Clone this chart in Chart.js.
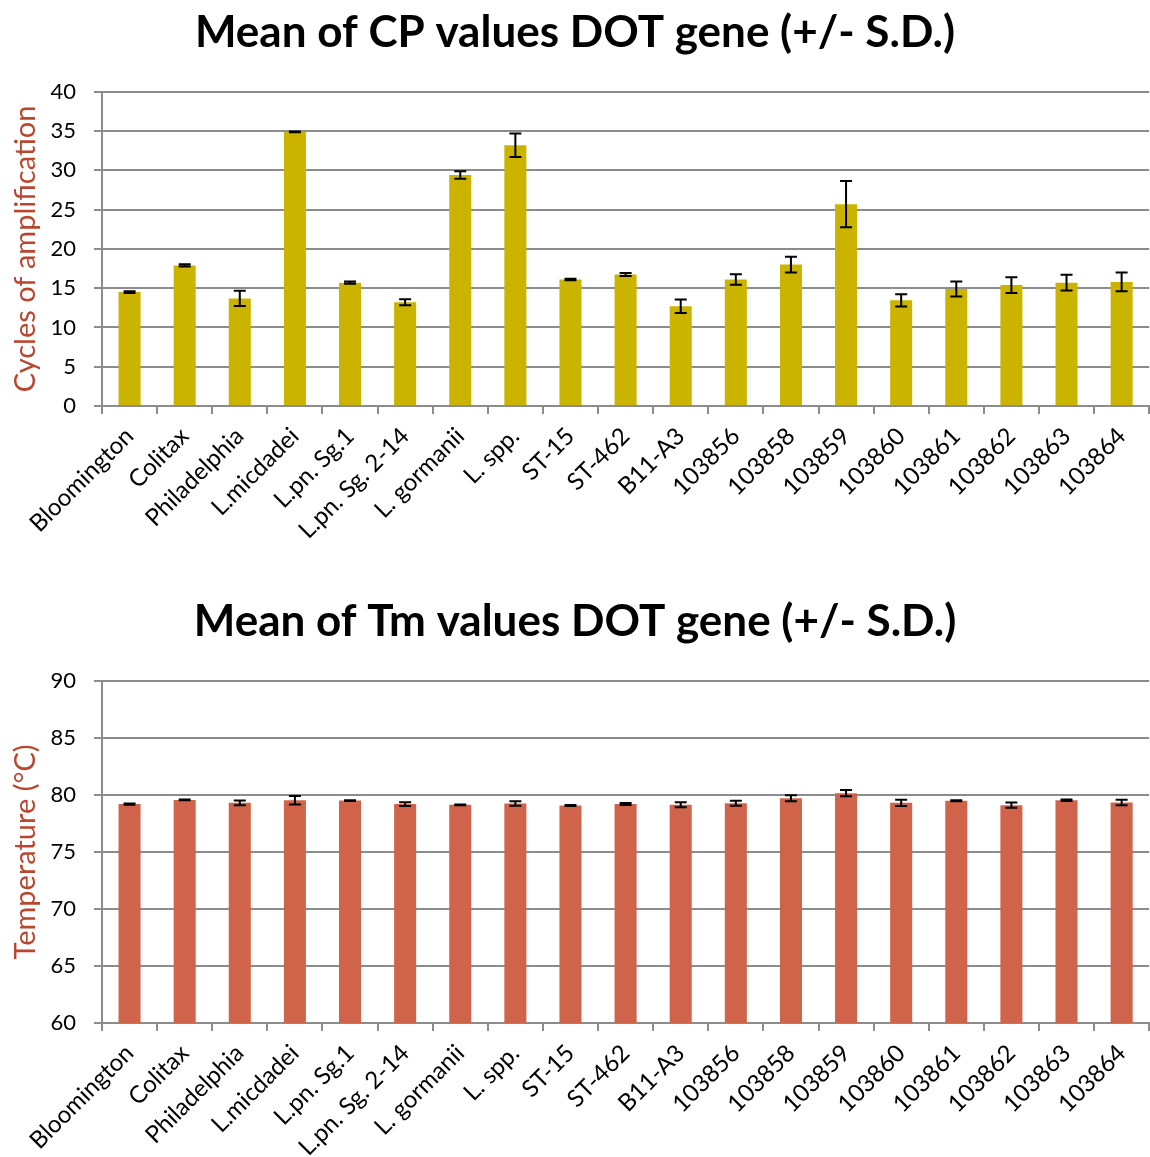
<!DOCTYPE html>
<html>
<head>
<meta charset="utf-8">
<script src="https://cdn.jsdelivr.net/npm/chart.js@4.4.0/dist/chart.umd.min.js"></script>
<style>
    html, body { margin: 0; padding: 0; background: #fff; }
    body { width: 1150px; height: 1157px; position: relative; overflow: hidden; }
    .box { position: absolute; left: 0; width: 1150px; }
    #topBox { top: 0; height: 589px; }
    #bottomBox { top: 589px; height: 568px; }
</style>
</head>
<body>
<div class="box" id="topBox"><canvas id="cpChart"></canvas></div>
<div class="box" id="bottomBox"><canvas id="tmChart"></canvas></div>
<script>
// Strains / isolates
const strains = ['Bloomington', 'Colitax', 'Philadelphia', 'L.micdadei', 'L.pn. Sg.1', 'L.pn. Sg. 2-14',
    'L. gormanii', 'L. spp.', 'ST-15', 'ST-462', 'B11-A3', '103856', '103858', '103859',
    '103860', '103861', '103862', '103863', '103864'];

// CP means and S.D.
const cpMean = [14.5, 17.9, 13.7, 34.9, 15.7, 13.2, 29.4, 33.2, 16.1, 16.75, 12.7, 16.1, 18.0, 25.7,
    13.45, 14.9, 15.4, 15.7, 15.8];
const cpSD = [0.1, 0.15, 0.97, 0.05, 0.15, 0.38, 0.47, 1.5, 0.1, 0.19, 0.87, 0.66, 1.0, 2.94,
    0.78, 0.95, 1.0, 1.0, 1.18];

// Tm means and S.D.
const tmMean = [79.19, 79.56, 79.3, 79.53, 79.5, 79.19, 79.13, 79.24, 79.07, 79.2, 79.13, 79.27, 79.71, 80.15,
    79.3, 79.48, 79.1, 79.53, 79.33];
const tmSD = [0.05, 0.03, 0.2, 0.38, 0.03, 0.16, 0.03, 0.19, 0.04, 0.08, 0.22, 0.22, 0.26, 0.28,
    0.28, 0.05, 0.23, 0.07, 0.25];

const cpTicks = [0, 5, 10, 15, 20, 25, 30, 35, 40];
const tmTicks = [60, 65, 70, 75, 80, 85, 90];

const FONT = 'Lato, "Open Sans", sans-serif';
const GRID = '#8c8c8c';
const AXIS_RED = '#b9472f';

// draws +/- S.D. whiskers on top of the bars
const errorBars = {
    id: 'errorBars',
    afterDatasetsDraw(chart, args, opts) {
        const ctx = chart.ctx;
        const y = chart.scales.y;
        const meta = chart.getDatasetMeta(0);
        const means = chart.data.datasets[0].data;
        ctx.save();
        ctx.strokeStyle = '#000';
        ctx.lineWidth = 2;
        meta.data.forEach((bar, i) => {
            const sd = opts.sd[i];
            const top = y.getPixelForValue(means[i] + sd);
            const bot = y.getPixelForValue(means[i] - sd);
            ctx.beginPath();
            ctx.moveTo(bar.x, top);
            ctx.lineTo(bar.x, bot);
            ctx.moveTo(bar.x - 6, top);
            ctx.lineTo(bar.x + 6, top);
            ctx.moveTo(bar.x - 6, bot);
            ctx.lineTo(bar.x + 6, bot);
            ctx.stroke();
        });
        ctx.restore();
    }
};

function makeChart(id, title, yTitle, means, sds, ticks, color, xHeight) {
    return new Chart(document.getElementById(id), {
        type: 'bar',
        data: {
            labels: strains,
            datasets: [{
                data: means,
                backgroundColor: color,
                borderWidth: 0,
                barPercentage: 0.4,
                categoryPercentage: 1.0
            }]
        },
        plugins: [errorBars],
        options: {
            responsive: true,
            maintainAspectRatio: false,
            animation: false,
            layout: { padding: { left: 0, right: 0, top: 0, bottom: 0 } },
            scales: {
                x: {
                    offset: true,
                    grid: {
                        offset: true,
                        drawOnChartArea: false,
                        color: GRID,
                        lineWidth: 2,
                        tickLength: 8
                    },
                    border: { color: GRID, width: 2 },
                    ticks: {
                        color: '#000',
                        minRotation: 45,
                        maxRotation: 45,
                        autoSkip: false,
                        padding: 8,
                        font: { family: FONT, size: 24 }
                    },
                    afterFit(scale) { scale.height = xHeight; }
                },
                y: {
                    min: ticks[0],
                    max: ticks[ticks.length - 1],
                    afterBuildTicks(scale) { scale.ticks = ticks.map(v => ({ value: v })); },
                    grid: { color: GRID, lineWidth: 2, tickLength: 8 },
                    border: { color: GRID, width: 2 },
                    ticks: {
                        color: '#000',
                        padding: 18,
                        font: { family: FONT, size: 22 }
                    },
                    title: {
                        display: true,
                        text: yTitle,
                        color: AXIS_RED,
                        padding: { top: 8, bottom: 2 },
                        font: { family: FONT, size: 29 }
                    },
                    afterFit(scale) { scale.width = 102; }
                }
            },
            plugins: {
                legend: { display: false },
                tooltip: { enabled: false },
                title: {
                    display: true,
                    text: title,
                    color: '#000',
                    padding: { top: 6, bottom: 33 },
                    font: { family: FONT, size: 44, weight: 'bold' }
                },
                errorBars: { sd: sds }
            }
        }
    });
}

makeChart('cpChart', 'Mean of CP values DOT gene (+/- S.D.)', 'Cycles of amplification',
    cpMean, cpSD, cpTicks, '#cbb400', 183);
makeChart('tmChart', 'Mean of Tm values DOT gene (+/- S.D.)', 'Temperature (°C)',
    tmMean, tmSD, tmTicks, '#d0644b', 134);
</script>
</body>
</html>
